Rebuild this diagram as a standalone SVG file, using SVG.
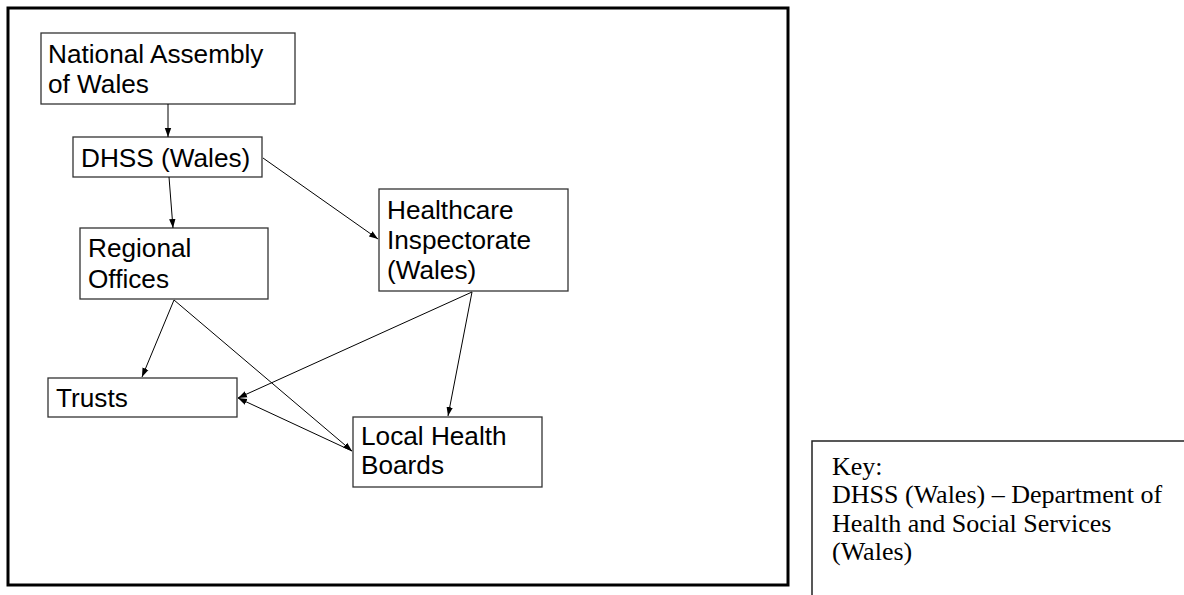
<svg xmlns="http://www.w3.org/2000/svg" width="1184" height="595" viewBox="0 0 1184 595">
<defs>
<marker id="ah" markerUnits="userSpaceOnUse" markerWidth="10" markerHeight="8" refX="9" refY="4" orient="auto">
<path d="M0,0.8 L9,4 L0,7.2 Z" fill="#000"/>
</marker>
<style>
.box{fill:#fff;stroke:#333;stroke-width:1.3}
.t{font-family:"Liberation Sans",Arial,sans-serif;font-size:26.2px;fill:#000}
.k{font-family:"Liberation Serif","Times New Roman",serif;font-size:26px;fill:#000}
.c line{stroke:#000;stroke-width:1;marker-end:url(#ah)}
</style>
</defs>
<rect width="1184" height="595" fill="#fff"/>
<rect x="8" y="8" width="780" height="577" fill="none" stroke="#000" stroke-width="3"/>
<g id="national-assembly"><rect class="box" x="41" y="33" width="254" height="71"/><text class="t" x="48" y="63">National Assembly</text><text class="t" x="48" y="93">of Wales</text></g>
<g id="dhss"><rect class="box" x="73" y="137" width="189" height="40"/><text class="t" x="81" y="167">DHSS (Wales)</text></g>
<g id="regional-offices"><rect class="box" x="80" y="228" width="188" height="71"/><text class="t" x="88" y="257">Regional</text><text class="t" x="88" y="288">Offices</text></g>
<g id="healthcare-inspectorate"><rect class="box" x="379" y="189" width="189" height="102"/><text class="t" x="387" y="219">Healthcare</text><text class="t" x="387" y="249">Inspectorate</text><text class="t" x="387" y="279">(Wales)</text></g>
<g id="trusts"><rect class="box" x="48" y="378" width="189" height="39"/><text class="t" x="56" y="407">Trusts</text></g>
<g id="local-health-boards"><rect class="box" x="353" y="417" width="189" height="70"/><text class="t" x="361" y="445">Local Health</text><text class="t" x="361" y="474">Boards</text></g>
<g id="key"><rect x="812" y="441" width="400" height="200" fill="#fff" stroke="#222" stroke-width="1.5"/><text class="k" x="832" y="475">Key:</text><text class="k" x="832" y="503">DHSS (Wales) – Department of</text><text class="k" x="832" y="532">Health and Social Services</text><text class="k" x="832" y="560">(Wales)</text></g>
<g class="c" id="connectors">
<line x1="168" y1="104" x2="168" y2="137"/>
<line x1="169" y1="177" x2="173" y2="228"/>
<line x1="263" y1="158" x2="378" y2="239"/>
<line x1="174" y1="300" x2="142" y2="377"/>
<line x1="174" y1="300" x2="352" y2="451"/>
<line x1="472" y1="292" x2="238" y2="398"/>
<line x1="472" y1="292" x2="448" y2="416"/>
<line x1="352" y1="451" x2="238" y2="398"/>
</g>
</svg>
